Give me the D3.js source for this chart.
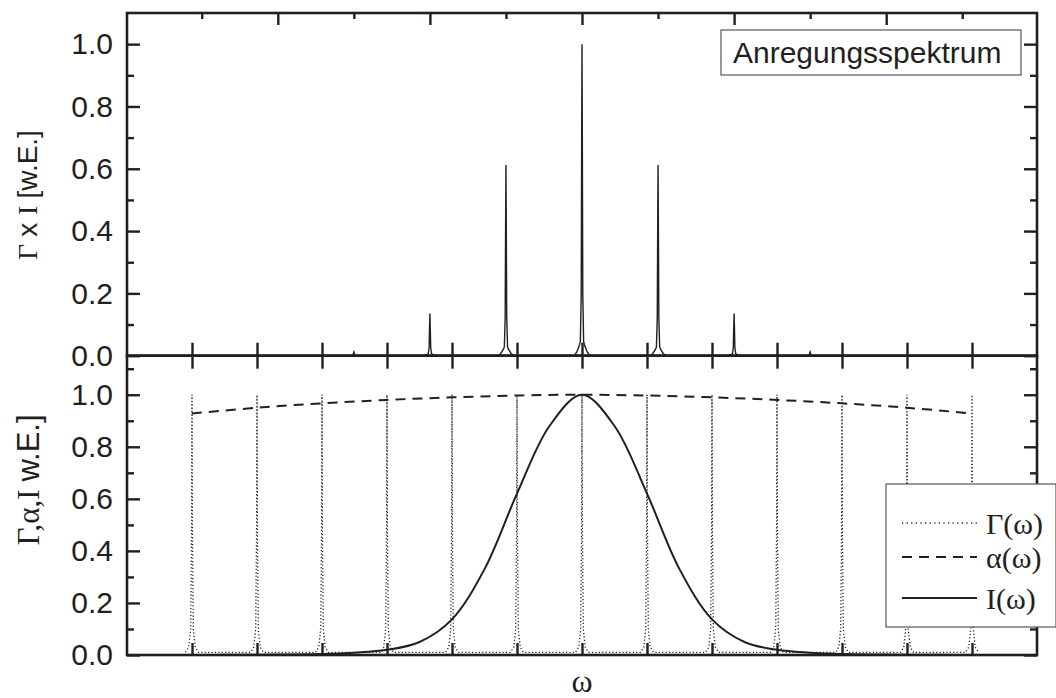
<!DOCTYPE html>
<html>
<head>
<meta charset="utf-8">
<script src="https://cdn.jsdelivr.net/npm/d3@7/dist/d3.min.js"></script>
<style>
  body { margin: 0; background: #fff; }
  svg { display: block; }
</style>
</head>
<body>
<svg id="chart" width="1056" height="698"></svg>
<script>
// ---- data ----
// upper panel: excitation spectrum spikes
const spikeCenters = [-3.51, -2.34, -1.17, 0, 1.17, 2.34, 3.51];
const spikeHeights = [0.012, 0.135, 0.612, 1.0, 0.612, 0.135, 0.012];
// spike shape as [offset, share of peak height]
const spikeProfile = [[-0.12, 0], [-0.08, 0.012], [-0.045, 0.03], [-0.025, 0.045], [-0.012, 0.2],
  [-0.005, 0.7], [0, 1], [0.005, 0.7], [0.012, 0.2], [0.025, 0.045], [0.045, 0.03], [0.08, 0.012], [0.12, 0]];

// lower panel: comb Γ(ω)
const gammaCenters = [-6, -5, -4, -3, -2, -1, 0, 1, 2, 3, 4, 5, 6];
const gammaProfile = [[-0.1, 0.01], [-0.05, 0.03], [-0.02, 0.1], [-0.006, 0.5], [0, 1],
  [0.006, 0.5], [0.02, 0.1], [0.05, 0.03], [0.1, 0.01]];

// α(ω)
const alphaOmega = [-6, -5, -4, -3, -2, -1, 0, 1, 2, 3, 4, 5, 6];
const alphaValues = [0.928, 0.95, 0.967, 0.98, 0.99, 0.997, 1.0, 0.997, 0.99, 0.98, 0.967, 0.95, 0.928];

// I(ω)
const intOmega = [-7, -6.5, -6, -5.5, -5, -4.5, -4, -3.5, -3, -2.5, -2, -1.5, -1, -0.5, 0,
  0.5, 1, 1.5, 2, 2.5, 3, 3.5, 4, 4.5, 5, 5.5, 6, 6.5, 7];
const intValues = [0, 0, 0, 0.0005, 0.001, 0.002, 0.004, 0.009, 0.02, 0.05, 0.137, 0.33, 0.62, 0.88, 1.0,
  0.88, 0.62, 0.33, 0.137, 0.05, 0.02, 0.009, 0.004, 0.002, 0.001, 0.0005, 0, 0, 0];

// ticks
const xTicks = [-6, -5, -4, -3, -2, -1, 0, 1, 2, 3, 4, 5, 6];
const topMajor = [-4.68, -2.34, 0, 2.34, 4.68];
const topMinor = [-5.85, -3.51, -1.17, 1.17, 3.51, 5.85];
const yMajor = [0, 0.2, 0.4, 0.6, 0.8, 1.0];
const yMinorTop = [0.1, 0.3, 0.5, 0.7, 0.9];
const yMinorBot = [0.1, 0.3, 0.5, 0.7, 0.9, 1.1];

const legendItems = ["Γ(ω)", "α(ω)", "I(ω)"];

// ---- layout ----
const ink = "#231f20";
const sans = "'Liberation Sans', Arial, sans-serif";
const serif = "'Liberation Serif', 'Times New Roman', serif";
const plotL = 127, plotR = 1037, plotT = 13, plotMid = 355.7, plotB = 655;

const svg = d3.select("#chart");

const x = d3.scaleLinear().domain([-7, 7]).range([plotL, plotR]);
const yTop = d3.scaleLinear().domain([0, 1.1]).range([plotMid, plotT]);
const yBot = d3.scaleLinear().domain([0, 1.15]).range([plotB, plotMid]);

function styleAxis(g, labels) {
  g.select(".domain").remove();
  g.selectAll(".tick line").attr("stroke", ink).attr("stroke-width", 2.4);
  g.selectAll(".tick text")
    .attr("fill", ink)
    .style("font-family", sans)
    .style("font-size", "30px")
    .style("display", labels ? null : "none");
}

// y axes (both panels)
[[yTop, yMinorTop], [yBot, yMinorBot]].forEach(([y, minor]) => {
  svg.append("g").attr("transform", `translate(${plotL},0)`)
    .call(d3.axisLeft(y).tickValues(yMajor).tickSize(-13).tickPadding(14).tickFormat(d3.format(".1f")))
    .call(g => styleAxis(g, true));
  svg.append("g").attr("transform", `translate(${plotL},0)`)
    .call(d3.axisLeft(y).tickValues(minor).tickSize(-7).tickFormat(""))
    .call(g => styleAxis(g, false));
  svg.append("g").attr("transform", `translate(${plotR},0)`)
    .call(d3.axisRight(y).tickValues(yMajor).tickSize(-13).tickFormat(""))
    .call(g => styleAxis(g, false));
  svg.append("g").attr("transform", `translate(${plotR},0)`)
    .call(d3.axisRight(y).tickValues(minor).tickSize(-7).tickFormat(""))
    .call(g => styleAxis(g, false));
});

// x ticks: shared middle line and bottom line
svg.append("g").attr("transform", `translate(0,${plotMid})`)
  .call(d3.axisBottom(x).tickValues(xTicks).tickSize(-13).tickFormat(""))
  .call(g => styleAxis(g, false));
svg.append("g").attr("transform", `translate(0,${plotMid})`)
  .call(d3.axisTop(x).tickValues(xTicks).tickSize(-13).tickFormat(""))
  .call(g => styleAxis(g, false));
svg.append("g").attr("transform", `translate(0,${plotB})`)
  .call(d3.axisBottom(x).tickValues(xTicks).tickSize(-12).tickFormat(""))
  .call(g => styleAxis(g, false));

// top frame ticks follow the spike spacing
svg.append("g").attr("transform", `translate(0,${plotT})`)
  .call(d3.axisTop(x).tickValues(topMajor).tickSize(-12).tickFormat(""))
  .call(g => styleAxis(g, false));
svg.append("g").attr("transform", `translate(0,${plotT})`)
  .call(d3.axisTop(x).tickValues(topMinor).tickSize(-6).tickFormat(""))
  .call(g => styleAxis(g, false));

// ---- upper panel curve ----
const spectrum = [[-7, 0]];
spikeCenters.forEach((c, i) => {
  spikeProfile.forEach(([dx, f]) => spectrum.push([c + dx, f * spikeHeights[i]]));
});
spectrum.push([7, 0]);

svg.append("path")
  .datum(spectrum)
  .attr("fill", "none")
  .attr("stroke", ink)
  .attr("stroke-width", 1.4)
  .attr("d", d3.line().x(d => x(d[0])).y(d => yTop(d[1])));

// ---- lower panel curves ----
const gamma = [];
gammaCenters.forEach(c => {
  gammaProfile.forEach(([dx, v]) => gamma.push([c + dx, v]));
});

svg.append("path")
  .datum(gamma)
  .attr("fill", "none")
  .attr("stroke", ink)
  .attr("stroke-width", 1.3)
  .attr("stroke-dasharray", "1.2,2.2")
  .attr("d", d3.line().x(d => x(d[0])).y(d => yBot(d[1])));

svg.append("path")
  .datum(alphaOmega.map((w, i) => [w, alphaValues[i]]))
  .attr("fill", "none")
  .attr("stroke", ink)
  .attr("stroke-width", 2)
  .attr("stroke-dasharray", "10,7")
  .attr("d", d3.line().curve(d3.curveCatmullRom).x(d => x(d[0])).y(d => yBot(d[1])));

svg.append("path")
  .datum(intOmega.map((w, i) => [w, intValues[i]]))
  .attr("fill", "none")
  .attr("stroke", ink)
  .attr("stroke-width", 2)
  .attr("d", d3.line().curve(d3.curveCatmullRom).x(d => x(d[0])).y(d => yBot(Math.max(0, d[1]))));

// frames
[[plotT, plotMid], [plotMid, plotB]].forEach(([y0, y1]) => {
  svg.append("rect")
    .attr("x", plotL).attr("y", y0)
    .attr("width", plotR - plotL).attr("height", y1 - y0)
    .attr("fill", "none").attr("stroke", ink).attr("stroke-width", 2.6);
});

// ---- labels ----
const t1 = svg.append("text")
  .attr("transform", "translate(37,195) rotate(-90)")
  .attr("text-anchor", "middle")
  .attr("fill", ink)
  .style("font-size", "28px");
t1.append("tspan").style("font-family", serif).text("Γ ");
t1.append("tspan").style("font-family", sans).text("x ");
t1.append("tspan").style("font-family", serif).text("I ");
t1.append("tspan").style("font-family", sans).text("[w.E.]");

const t2 = svg.append("text")
  .attr("transform", "translate(39,480) rotate(-90)")
  .attr("text-anchor", "middle")
  .attr("fill", ink)
  .style("font-size", "31px");
t2.append("tspan").style("font-family", serif).text("Γ,α,I ");
t2.append("tspan").style("font-family", sans).text("w.E.]");

svg.append("text")
  .attr("x", x(0)).attr("y", 692)
  .attr("text-anchor", "middle")
  .attr("fill", ink)
  .style("font-family", serif)
  .style("font-size", "32px")
  .text("ω");

// title box in the upper panel
svg.append("rect")
  .attr("x", 721).attr("y", 30).attr("width", 300).attr("height", 45)
  .attr("fill", "#fff").attr("stroke", "#555").attr("stroke-width", 1.2);
svg.append("text")
  .attr("x", 733).attr("y", 63)
  .attr("fill", ink)
  .style("font-family", sans)
  .style("font-size", "30px")
  .text("Anregungsspektrum");

// legend in the lower panel
const legend = svg.append("g");
legend.append("rect")
  .attr("x", 886).attr("y", 484).attr("width", 170).attr("height", 143)
  .attr("fill", "#fff").attr("stroke", "#555").attr("stroke-width", 1.2);
const rowY = [523, 557, 598];
const rowDash = ["1.2,3.4", "10,7", null];
const rowWidth = [1.3, 2, 2];
legendItems.forEach((name, i) => {
  legend.append("line")
    .attr("x1", 902).attr("x2", 977)
    .attr("y1", rowY[i]).attr("y2", rowY[i])
    .attr("stroke", ink)
    .attr("stroke-width", rowWidth[i])
    .attr("stroke-dasharray", rowDash[i]);
  legend.append("text")
    .attr("x", 986).attr("y", rowY[i] + 11)
    .attr("fill", ink)
    .style("font-family", serif)
    .style("font-size", "30px")
    .text(name);
});
</script>
</body>
</html>
